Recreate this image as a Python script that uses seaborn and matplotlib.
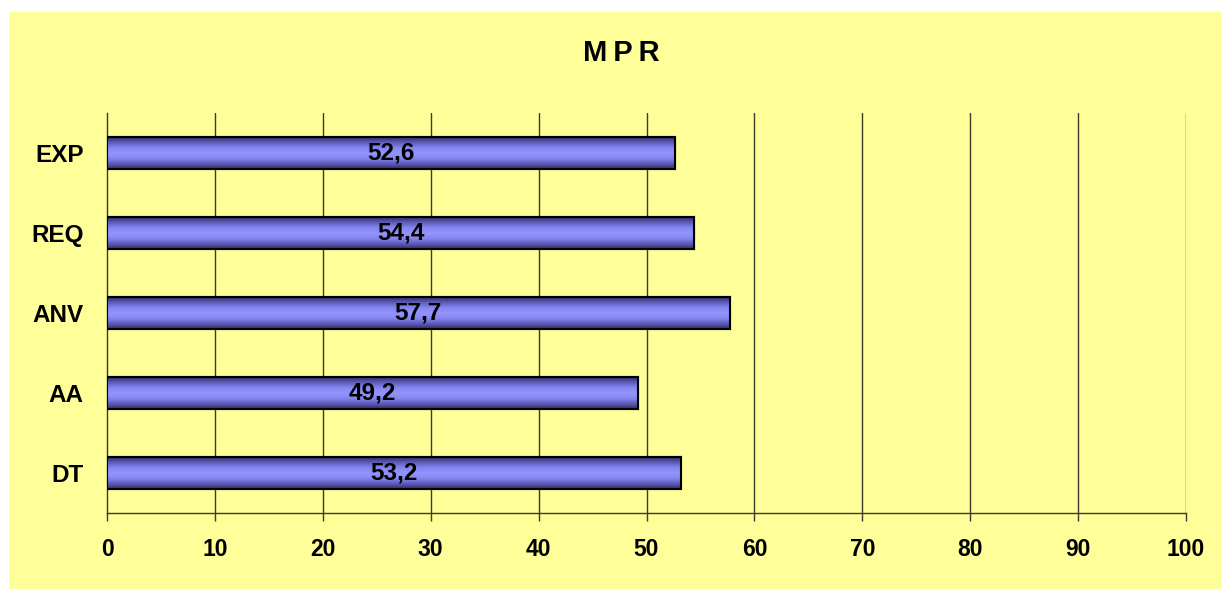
import matplotlib
matplotlib.use("Agg")
import matplotlib.pyplot as plt
import matplotlib.patches as mpatches
from matplotlib.colors import LinearSegmentedColormap
import numpy as np
import pandas as pd
import seaborn as sns

categories = ["EXP", "REQ", "ANV", "AA", "DT"]
values = [52.6, 54.4, 57.7, 49.2, 53.2]
x_ticks = [0, 10, 20, 30, 40, 50, 60, 70, 80, 90, 100]
title = "M\u2009P\u2009R"

sns.set_theme(style="white")
plt.rcParams["font.family"] = ["Liberation Sans", "DejaVu Sans"]
plt.rcParams["text.color"] = "black"
plt.rcParams["xtick.color"] = "black"
plt.rcParams["ytick.color"] = "black"

BG = "#FFFF99"
df = pd.DataFrame({"cat": categories, "val": values})

fig = plt.figure(figsize=(12.21, 5.89), dpi=100)
fig.patch.set_facecolor("white")
# yellow chart area behind everything
fig.patches.append(mpatches.Rectangle((9 / 1221, 0), 1 - 9 / 1221, 1 - 12 / 589,
                                      transform=fig.transFigure, facecolor=BG,
                                      edgecolor="none", zorder=-10))

ax = fig.add_axes([107 / 1221, 1 - 513 / 589, (1186 - 107) / 1221, 400 / 589])
ax.set_facecolor(BG)

sns.barplot(data=df, x="val", y="cat", orient="h", width=0.4,
            color="#8888EE", edgecolor="black", linewidth=1.5, ax=ax, zorder=3)

ax.set_xlim(0, 100)
ax.set_xticks(x_ticks)
ax.set_xticklabels([str(t) for t in x_ticks], fontsize=16.5, fontweight="bold")
ax.set_yticklabels(categories, fontsize=17.5, fontweight="bold")
ax.set_xlabel("")
ax.set_ylabel("")

# vertical gradient fill for each bar
grad = LinearSegmentedColormap.from_list(
    "barshade", ["#30306a", "#5e5eb8", "#8686f0", "#9494ff", "#8686f0", "#5e5eb8", "#30306a"])
gimg = np.linspace(0, 1, 64).reshape(-1, 1)
for bar in list(ax.patches):
    x0, y0 = bar.get_x(), bar.get_y()
    w, h = bar.get_width(), bar.get_height()
    im = ax.imshow(gimg, cmap=grad, aspect="auto", extent=(x0, x0 + w, y0 + h, y0),
                   zorder=3.5, interpolation="bicubic")
    im.set_clip_path(bar)
    ax.add_patch(mpatches.Rectangle((x0, y0), w, h, fill=False, edgecolor="black",
                                    linewidth=1.5, zorder=4))

ax.set_xlim(0, 100)
ax.set_ylim(4.5, -0.5)

# value labels centred in bars
for i, v in enumerate(values):
    ax.text(v / 2, i, f"{v:.1f}".replace(".", ","), ha="center", va="center",
            fontsize=17.5, fontweight="bold", color="black", zorder=5)

# vertical gridlines
for t in x_ticks[1:]:
    ax.axvline(t, color="#3a3a2a", linewidth=1, zorder=1)

for s in ["top", "right"]:
    ax.spines[s].set_visible(False)
for s in ["left", "bottom"]:
    ax.spines[s].set_color("#3a3a2a")
    ax.spines[s].set_linewidth(1)
ax.tick_params(axis="x", bottom=True, length=6, width=1, color="#3a3a2a", pad=12)
ax.tick_params(axis="y", left=False, pad=11)

fig.text(621 / 1221, 1 - 53 / 589, title, ha="center", va="center", fontsize=21,
         fontweight="bold", color="black")

fig.savefig("out.png", dpi=100, facecolor=fig.get_facecolor())
